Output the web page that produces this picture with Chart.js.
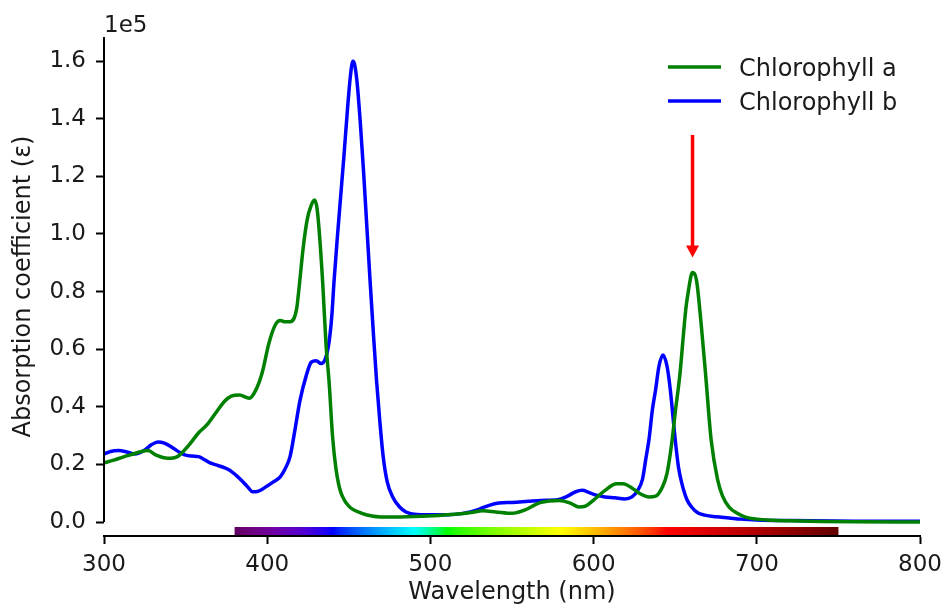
<!DOCTYPE html>
<html>
<head>
<meta charset="utf-8">
<script src="https://cdn.jsdelivr.net/npm/chart.js@4.4.1/dist/chart.umd.min.js"></script>
<style>
  html, body { margin: 0; padding: 0; background: #fff; }
  #wrap { width: 949px; height: 610px; }
</style>
</head>
<body>
<div id="wrap"><canvas id="spectrumChart" width="949" height="610"></canvas></div>
<script>
// Chlorophyll a (green) - wavelength in nm, absorption coefficient
const chlAWavelength = [300, 306, 312, 318, 323, 327, 332, 339, 345, 352, 358, 363, 369, 374, 378, 383, 389, 393, 397, 401, 405, 408, 411, 414, 418, 420, 422, 424.5, 427, 429, 430.5, 432, 434, 436, 438, 440, 442, 444, 446, 450, 458, 465, 475, 485, 495, 505, 515, 525, 532, 540, 550, 558, 566, 573, 579, 586, 591, 595, 600, 607, 614, 618, 623, 628, 634, 638, 642, 645, 648, 650, 653, 655, 656.5, 658, 660.5, 663, 666, 668.5, 672, 676, 679, 683, 688, 693, 700, 710, 720, 740, 760, 800];
const chlAValues = [20500, 21500, 22600, 23600, 24500, 24800, 23200, 22100, 22700, 26700, 31000, 33700, 38300, 42000, 43700, 44100, 43000, 45800, 52000, 62000, 68500, 70000, 69500, 69500, 74000, 84000, 95000, 105000, 110000, 111800, 109000, 100000, 83000, 62000, 48000, 30000, 19000, 12500, 9000, 5500, 3000, 2000, 1700, 1800, 2000, 2300, 2700, 3300, 3900, 3500, 3000, 4200, 6500, 7300, 7500, 6500, 5200, 5500, 7600, 11000, 13300, 13300, 12000, 10000, 8700, 9000, 12000, 17000, 28000, 38000, 52000, 65000, 74000, 80000, 86600, 84000, 68000, 52000, 28500, 14600, 9000, 5200, 3000, 1700, 1000, 600, 400, 200, 100, 0];

// Chlorophyll b (blue)
const chlBWavelength = [300, 304, 309, 314, 319, 325, 329, 333, 337, 342, 346, 350, 354, 358, 362, 365, 370, 374, 377, 381, 384, 388, 391, 394, 399.5, 404, 408, 411, 414, 417, 420, 424, 427, 430, 433, 435.5, 437.5, 439.5, 441, 443, 445, 447, 449, 451, 452.5, 453.5, 455, 457, 459, 461, 463, 465, 467, 469, 471, 473.5, 476.8, 481, 485, 490, 500, 510, 520, 530, 536, 542, 550, 560, 568, 578, 584, 589, 593, 597, 601, 607, 613, 619, 623.5, 627, 630, 632, 634, 636, 638, 640, 642.5, 645, 647, 650, 652, 654, 657, 660, 664, 668, 675, 683, 690, 700, 720, 760, 800];
const chlBValues = [23600, 24500, 24800, 24300, 23600, 25000, 26800, 27800, 27400, 25800, 24300, 23200, 22900, 22700, 21500, 20500, 19600, 18800, 18000, 16200, 14600, 12200, 10500, 10600, 12300, 14000, 15700, 18500, 22700, 32000, 42000, 51000, 55500, 56000, 55000, 56500, 61000, 71000, 84000, 99000, 113000, 127000, 142000, 155000, 160000, 159000, 153000, 139000, 122000, 103000, 84000, 66000, 49000, 35000, 23000, 14000, 8800, 5300, 3500, 2700, 2500, 2500, 3000, 4500, 5800, 6600, 6800, 7200, 7500, 7700, 9000, 10500, 11000, 10300, 9400, 8700, 8400, 8000, 8700, 11000, 15000, 22000, 29000, 39000, 46000, 54000, 58000, 54000, 45800, 28500, 19000, 13500, 8000, 5200, 3100, 2400, 1800, 1400, 1000, 700, 500, 300, 300];

const seriesLabels = ['Chlorophyll a', 'Chlorophyll b'];
const seriesColors = ['#008000', '#0000ff'];

const xTicks = [300, 400, 500, 600, 700, 800];
const yTicks = [0, 20000, 40000, 60000, 80000, 100000, 120000, 140000, 160000];

// visible spectrum band and red arrow (data coordinates)
const visibleRange = [380, 750];
const arrowWavelength = 660.6;
const arrowFrom = 134400;
const arrowTo = 91800;

const FONT = "'DejaVu Sans', sans-serif";

function toPoints(xs, ys) {
    return xs.map((x, i) => ({ x: x, y: ys[i] }));
}

// classic wavelength -> rgb, used for the colour band
function wavelengthToRgb(w) {
    const gamma = 0.8;
    let r = 0, g = 0, b = 0;
    if (w >= 380 && w <= 440) {
        const att = 0.3 + 0.7 * (w - 380) / 60;
        r = Math.pow((-(w - 440) / 60) * att, gamma);
        b = Math.pow(att, gamma);
    } else if (w <= 490) {
        g = Math.pow((w - 440) / 50, gamma);
        b = 1;
    } else if (w <= 510) {
        g = 1;
        b = Math.pow(-(w - 510) / 20, gamma);
    } else if (w <= 580) {
        r = Math.pow((w - 510) / 70, gamma);
        g = 1;
    } else if (w <= 645) {
        r = 1;
        g = Math.pow(-(w - 645) / 65, gamma);
    } else {
        const att = 0.3 + 0.7 * (750 - w) / 105;
        r = Math.pow(att, gamma);
    }
    return 'rgb(' + Math.round(r * 255) + ',' + Math.round(g * 255) + ',' + Math.round(b * 255) + ')';
}

const extras = {
    id: 'extras',
    beforeDatasetsDraw(chart) {
        const ctx = chart.ctx;
        const xs = chart.scales.x;
        const bottom = chart.chartArea.bottom;
        // colour band sitting on the x axis
        const x0 = xs.getPixelForValue(visibleRange[0]);
        const x1 = xs.getPixelForValue(visibleRange[1]);
        const grad = ctx.createLinearGradient(x0, 0, x1, 0);
        for (let w = visibleRange[0]; w <= visibleRange[1]; w += 5) {
            grad.addColorStop((w - visibleRange[0]) / (visibleRange[1] - visibleRange[0]), wavelengthToRgb(w));
        }
        ctx.save();
        ctx.fillStyle = grad;
        ctx.fillRect(x0, bottom - 9, x1 - x0, 8);
        ctx.restore();
    },
    afterDraw(chart) {
        const ctx = chart.ctx;
        const xs = chart.scales.x;
        const ys = chart.scales.y;
        ctx.save();

        // y spine, stops at 0 like the offset matplotlib axes
        ctx.strokeStyle = '#000';
        ctx.lineWidth = 2;
        ctx.beginPath();
        ctx.moveTo(chart.chartArea.left, ys.getPixelForValue(ys.max));
        ctx.lineTo(chart.chartArea.left, ys.getPixelForValue(0));
        ctx.stroke();

        // offset text
        ctx.fillStyle = '#1a1a1a';
        ctx.font = '23px ' + FONT;
        ctx.textAlign = 'left';
        ctx.textBaseline = 'alphabetic';
        ctx.fillText('1e5', chart.chartArea.left, 32);

        // legend
        const lx = 668, ly = [67, 101];
        ctx.font = '24px ' + FONT;
        chart.data.datasets.forEach((ds, i) => {
            ctx.strokeStyle = ds.borderColor;
            ctx.lineWidth = 3.5;
            ctx.beginPath();
            ctx.moveTo(lx, ly[i]);
            ctx.lineTo(lx + 53, ly[i]);
            ctx.stroke();
            ctx.fillStyle = '#1a1a1a';
            ctx.textBaseline = 'alphabetic';
            ctx.fillText(ds.label, lx + 71, ly[i] + 9);
        });

        // red arrow
        const ax = xs.getPixelForValue(arrowWavelength);
        const ay0 = ys.getPixelForValue(arrowFrom);
        const ay1 = ys.getPixelForValue(arrowTo);
        ctx.strokeStyle = '#ff0000';
        ctx.fillStyle = '#ff0000';
        ctx.lineWidth = 3.5;
        ctx.beginPath();
        ctx.moveTo(ax, ay0);
        ctx.lineTo(ax, ay1 - 11);
        ctx.stroke();
        ctx.beginPath();
        ctx.moveTo(ax - 6.5, ay1 - 12);
        ctx.lineTo(ax + 6.5, ay1 - 12);
        ctx.lineTo(ax, ay1);
        ctx.closePath();
        ctx.fill();
        ctx.restore();
    }
};

const ctx = document.getElementById('spectrumChart').getContext('2d');
const chart = new Chart(ctx, {
    type: 'line',
    data: {
        datasets: [
            {
                label: seriesLabels[0],
                data: toPoints(chlAWavelength, chlAValues),
                borderColor: seriesColors[0],
                borderWidth: 3.5,
                pointRadius: 0,
                cubicInterpolationMode: 'monotone',
                fill: false
            },
            {
                label: seriesLabels[1],
                data: toPoints(chlBWavelength, chlBValues),
                borderColor: seriesColors[1],
                borderWidth: 3.5,
                pointRadius: 0,
                cubicInterpolationMode: 'monotone',
                fill: false
            }
        ]
    },
    options: {
        responsive: false,
        animation: false,
        layout: { padding: { top: 37, right: 27, left: 0, bottom: 0 } },
        plugins: {
            legend: { display: false },
            tooltip: { enabled: false }
        },
        scales: {
            x: {
                type: 'linear',
                min: 300,
                max: 800,
                afterBuildTicks: (scale) => { scale.ticks = xTicks.map(v => ({ value: v })); },
                afterFit: (scale) => { scale.height = 74; },
                ticks: {
                    color: '#1a1a1a',
                    font: { family: FONT, size: 23 },
                    padding: 7,
                    maxRotation: 0
                },
                grid: {
                    drawOnChartArea: false,
                    drawTicks: true,
                    tickLength: 8,
                    tickWidth: 2,
                    color: '#000'
                },
                border: { display: true, color: '#000', width: 2 },
                title: {
                    display: true,
                    text: 'Wavelength (nm)',
                    color: '#1a1a1a',
                    font: { family: FONT, size: 24 },
                    padding: { top: 0, bottom: 3 }
                }
            },
            y: {
                type: 'linear',
                min: -4860,
                max: 168400,
                afterBuildTicks: (scale) => { scale.ticks = yTicks.map(v => ({ value: v })); },
                afterFit: (scale) => { scale.width = 104; },
                ticks: {
                    color: '#1a1a1a',
                    font: { family: FONT, size: 23 },
                    padding: 10,
                    callback: (v) => (v / 1e5).toFixed(1)
                },
                grid: {
                    drawOnChartArea: false,
                    drawTicks: true,
                    tickLength: 8,
                    tickWidth: 2,
                    color: '#000'
                },
                border: { display: false },
                title: {
                    display: true,
                    text: 'Absorption coefficient (ε)',
                    color: '#1a1a1a',
                    font: { family: FONT, size: 24 },
                    padding: { top: 9, bottom: 0 }
                }
            }
        }
    },
    plugins: [extras]
});
</script>
</body>
</html>
